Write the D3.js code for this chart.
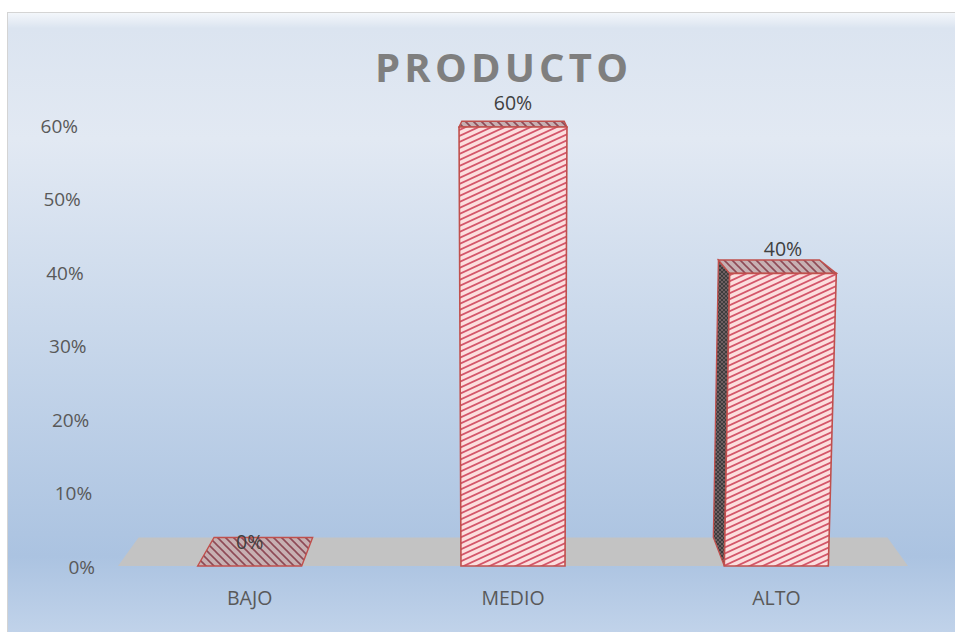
<!DOCTYPE html>
<html>
<head>
<meta charset="utf-8">
<script src="https://cdn.jsdelivr.net/npm/d3@7"></script>
<style>
  html, body { margin: 0; padding: 0; background: #ffffff; }
  svg { display: block; }
</style>
</head>
<body>
<svg id="chart" width="955" height="632"></svg>
<script>
// ---- data ----
const title = "PRODUCTO";
const categories = ["BAJO", "MEDIO", "ALTO"];
const values = [0.0, 0.6, 0.4];
const tickValues = [0, 0.1, 0.2, 0.3, 0.4, 0.5, 0.6];

// ---- layout ----
const W = 955, H = 632;
const svg = d3.select("#chart");
const defs = svg.append("defs");

// background gradient
const bg = defs.append("linearGradient").attr("id", "bgGrad")
  .attr("x1", 0).attr("y1", 0).attr("x2", 0).attr("y2", 1);
[[0, "#f4f7fb"], [0.025, "#dbe4f0"], [0.2, "#e2e9f3"], [0.5, "#c9d8eb"],
 [0.86, "#abc3e1"], [1, "#c4d5eb"]].forEach(([o, c]) =>
  bg.append("stop").attr("offset", o).attr("stop-color", c));

svg.append("rect").attr("x", 7.5).attr("y", 12.5).attr("width", W).attr("height", H)
  .attr("fill", "url(#bgGrad)").attr("stroke", "#d4d4d4").attr("stroke-width", 1);

// hatch patterns
function stripePattern(id, w, h, bgc, lc, lw, dir) {
  const p = defs.append("pattern").attr("id", id).attr("patternUnits", "userSpaceOnUse")
    .attr("width", w).attr("height", h);
  p.append("rect").attr("width", w).attr("height", h).attr("fill", bgc);
  [-w, 0, w].forEach(off => {
    const l = p.append("line").attr("stroke", lc).attr("stroke-width", lw);
    if (dir === "up") l.attr("x1", off - 2).attr("y1", h + h * 2 / w).attr("x2", off + w + 2).attr("y2", -h * 2 / w);
    else l.attr("x1", off - 2).attr("y1", -h * 2 / w).attr("x2", off + w + 2).attr("y2", h + h * 2 / w);
  });
  return p;
}
stripePattern("frontHatch", 13, 6, "#fcdede", "#d4566a", 1.8, "up");
stripePattern("topHatch", 8, 8, "#c7b0b2", "#8e4a56", 1.6, "down");
const side = defs.append("pattern").attr("id", "sideHatch").attr("patternUnits", "userSpaceOnUse")
  .attr("width", 4).attr("height", 4);
side.append("rect").attr("width", 4).attr("height", 4).attr("fill", "#3e3c3d");
side.append("path").attr("d", "M0,4L4,0M0,0L4,4").attr("stroke", "#7a6a6c").attr("stroke-width", 0.8);

// scales
const x = d3.scaleBand().domain(categories).range([118, 908])
  .paddingInner(0.605).paddingOuter(0.3025);
const y = d3.scaleLinear().domain([0, 0.6]).range([566, 127]);
const yLab = d3.scaleLinear().domain([0, 0.6]).range([567, 126]);
const xLab = d3.scaleLinear().domain([0, 0.6]).range([95, 78]);

// perspective helpers
const V = [513, 17];          // depth vanishing point
const depthT = 0.052;         // depth factor
const kExp = 8.6e-5;          // front-plane widening with height
const base = y(0);
const expand = (px, py) => [V[0] + (px - V[0]) * (1 + kExp * (base - py)), py];
const back = p => [p[0] + depthT * (V[0] - p[0]), p[1] + depthT * (V[1] - p[1])];
const poly = pts => "M" + pts.map(p => p[0].toFixed(2) + "," + p[1].toFixed(2)).join("L") + "Z";

// floor
const fl = [118, base], fr = [908, base];
svg.append("path").attr("d", poly([fl, fr, back(fr), back(fl)])).attr("fill", "#c3c3c3");

// bars
const bars = svg.append("g");
const stroke = "#c0504d";
categories.forEach((c, i) => {
  const v = values[i];
  const x0 = x(c), x1 = x(c) + x.bandwidth();
  const yt = y(v);
  const bl = [x0, base], br = [x1, base];
  const tl = expand(x0, yt), tr = expand(x1, yt);
  const g = bars.append("g");
  // side face
  if (v > 0) {
    if ((x0 + x1) / 2 > V[0] + 20) {
      g.append("path").attr("d", poly([bl, tl, back(tl), back(bl)]))
        .attr("fill", "url(#sideHatch)").attr("stroke", stroke).attr("stroke-width", 1.3);
    } else if ((x0 + x1) / 2 < V[0] - 20) {
      g.append("path").attr("d", poly([br, tr, back(tr), back(br)]))
        .attr("fill", "url(#sideHatch)").attr("stroke", stroke).attr("stroke-width", 1.3);
    }
  }
  // top face
  g.append("path").attr("d", poly([tl, tr, back(tr), back(tl)]))
    .attr("fill", "url(#topHatch)").attr("stroke", stroke).attr("stroke-width", 1.4);
  // front face
  if (v > 0) {
    g.append("path").attr("d", poly([bl, br, tr, tl]))
      .attr("fill", "url(#frontHatch)").attr("stroke", stroke).attr("stroke-width", 1.6);
  }
});

// value labels
svg.append("g").selectAll("text").data(categories).join("text")
  .attr("x", (c, i) => { const yt = y(values[i]); return (expand(x(c), yt)[0] + expand(x(c) + x.bandwidth(), yt)[0]) / 2; })
  .attr("y", (c, i) => y(values[i]) - 17)
  .attr("text-anchor", "middle")
  .attr("font-family", "'Open Sans', sans-serif").attr("font-size", 19.5)
  .attr("fill", "#404040")
  .text((c, i) => d3.format(".0%")(values[i]));

// y axis labels
const yAxis = svg.append("g").call(d3.axisLeft(yLab).tickValues(tickValues)
  .tickFormat(d3.format(".0%")).tickSize(0));
yAxis.select(".domain").remove();
yAxis.selectAll("text").attr("x", d => xLab(d))
  .attr("font-family", "'Open Sans', sans-serif").attr("font-size", 19).attr("fill", "#595959");

// x axis labels
const xAxis = svg.append("g").attr("transform", "translate(0,591)")
  .call(d3.axisBottom(x).tickSize(0).tickPadding(0));
xAxis.select(".domain").remove();
xAxis.selectAll("text").attr("font-family", "'Open Sans', sans-serif")
  .attr("font-size", 19.5).attr("fill", "#595959");

// title
svg.append("text").attr("x", 501.5).attr("y", 82).attr("text-anchor", "middle")
  .attr("font-family", "'Open Sans', sans-serif").attr("font-weight", "bold")
  .attr("font-size", 40).attr("fill", "#7f7f7f")
  .attr("textLength", 253).attr("lengthAdjust", "spacing")
  .text(title);
</script>
</body>
</html>
